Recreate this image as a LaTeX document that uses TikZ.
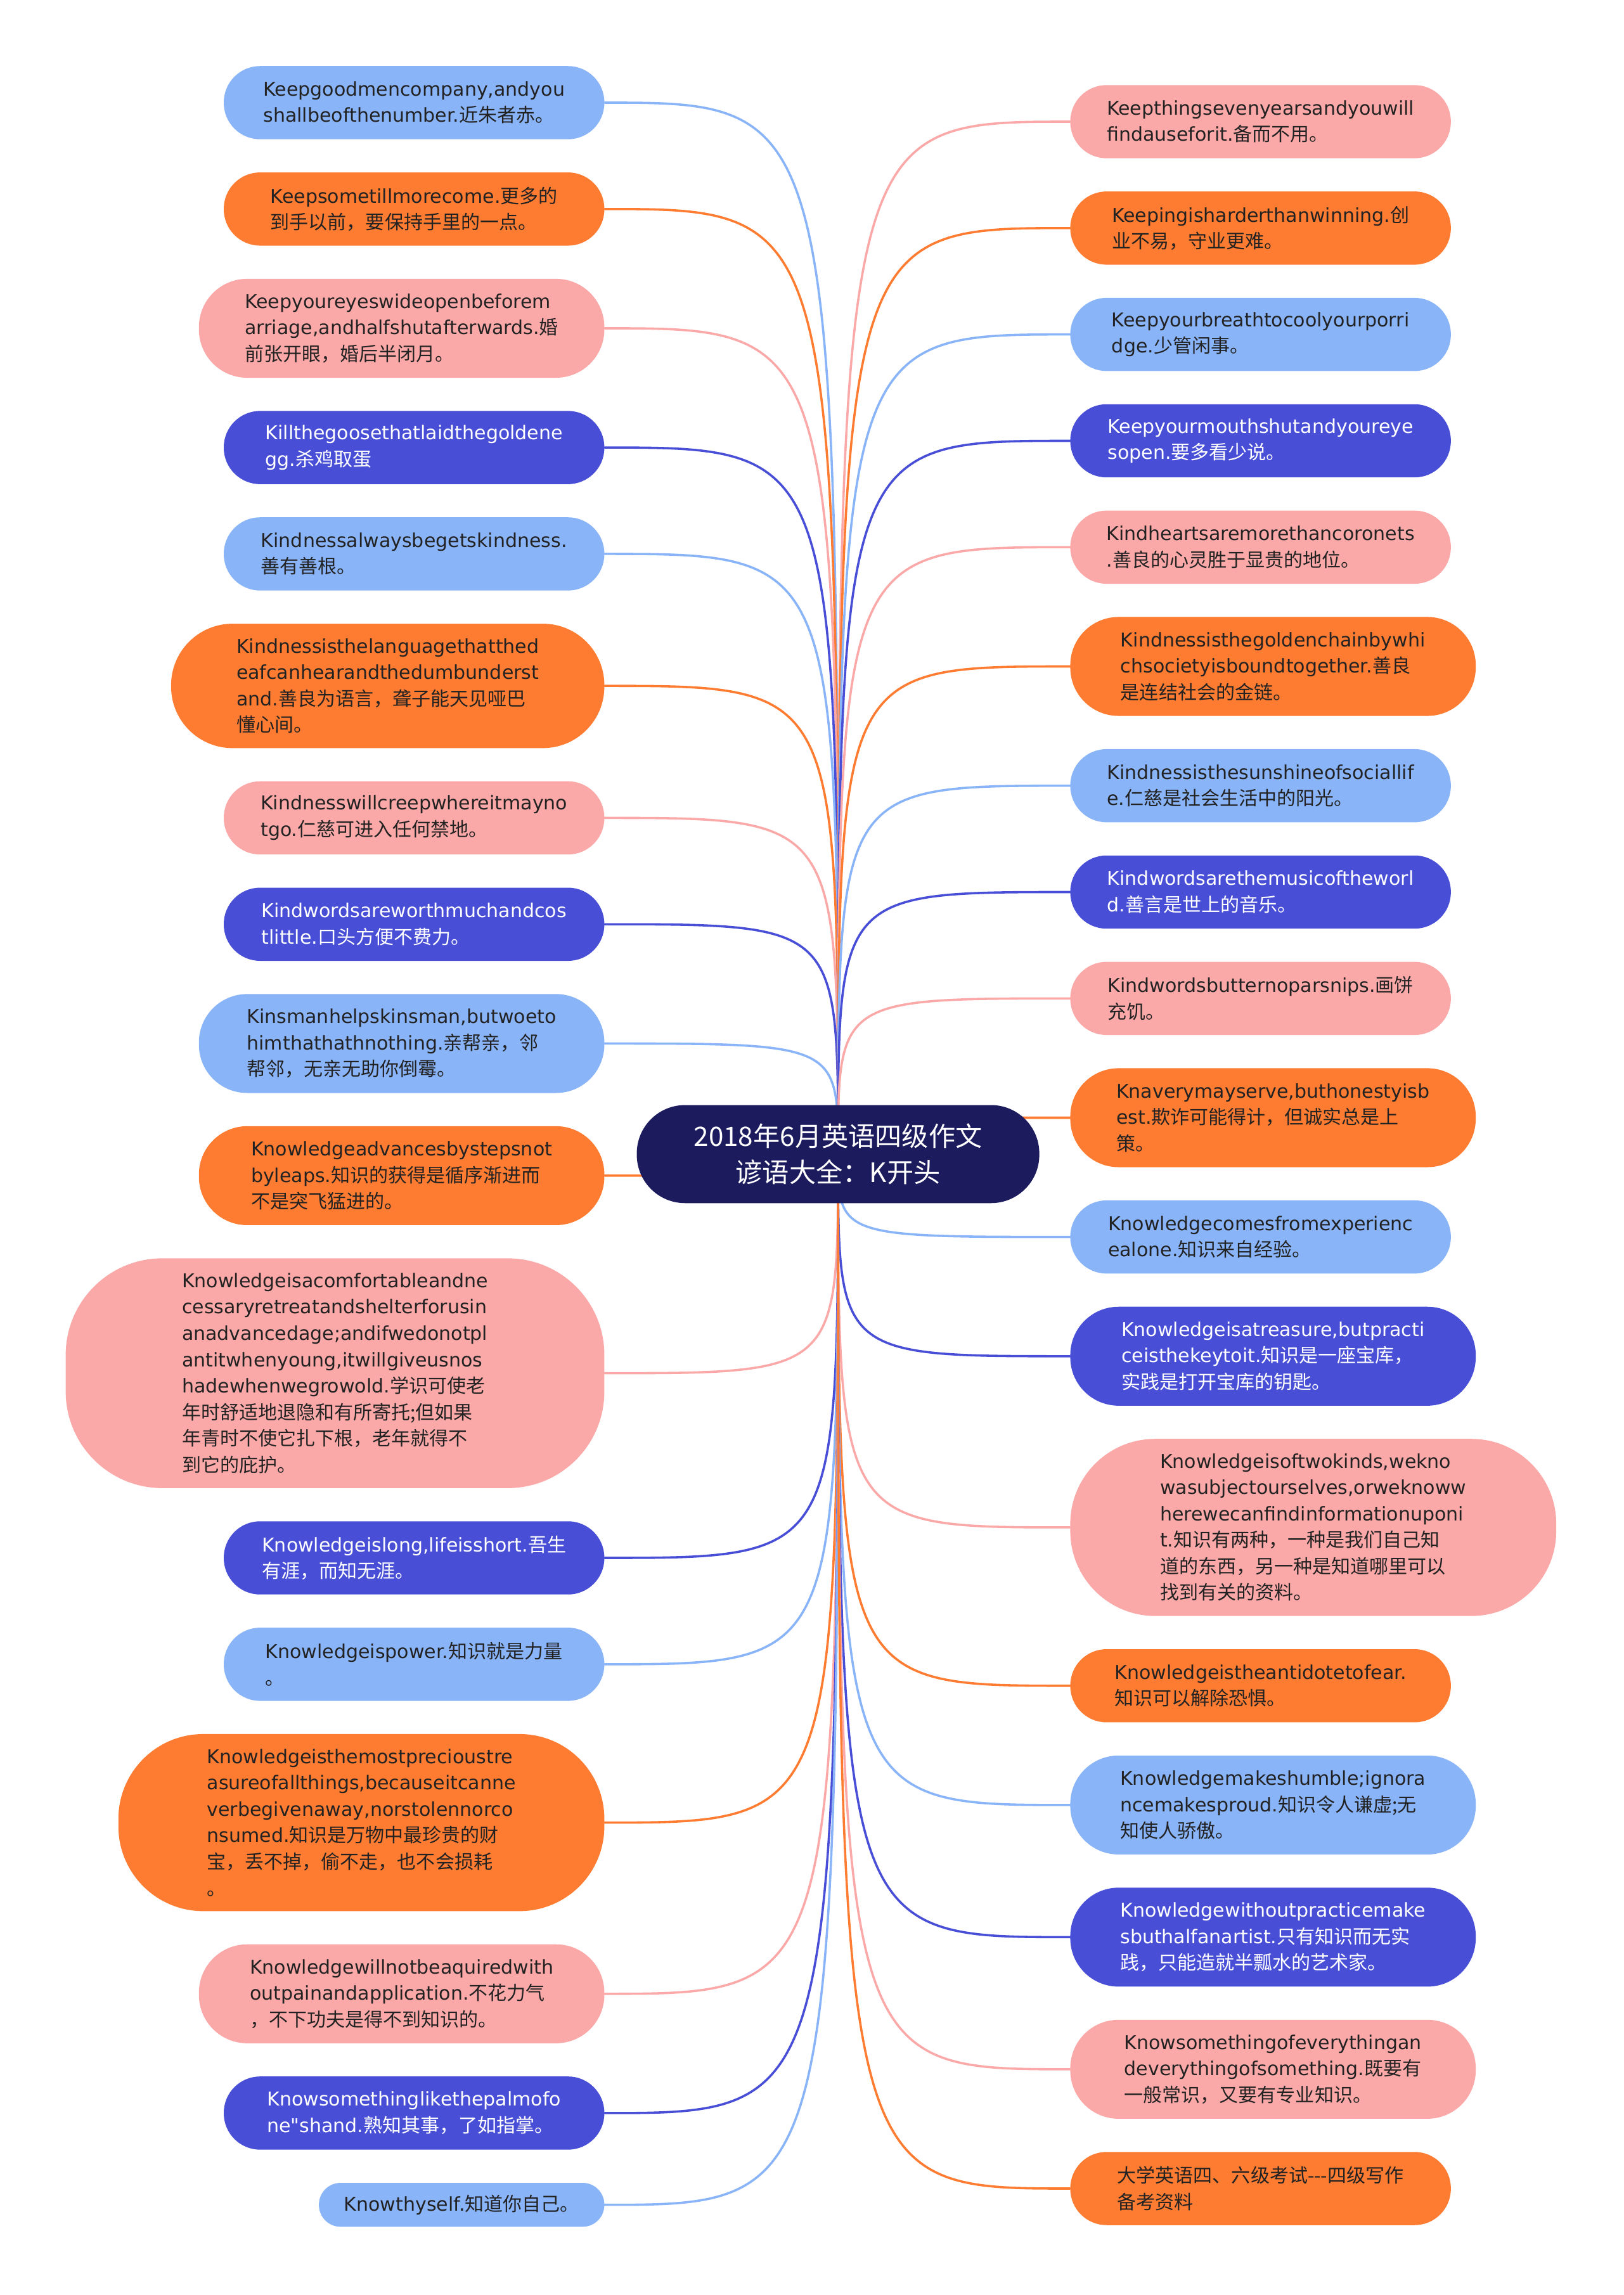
\documentclass[tikz,border=0pt]{standalone}
\usepackage{fontspec}
\setmainfont{DejaVu Sans}
\newfontfamily\cjk{Noto Sans CJK SC}
\newcommand{\zh}[1]{{\cjk #1}}
\newcommand{\dq}{\XeTeXglyph\XeTeXglyphindex "quotedbl"\relax}
\usetikzlibrary{positioning,backgrounds}
\definecolor{cLb}{RGB}{138,180,248}
\definecolor{cOg}{RGB}{253,124,50}
\definecolor{cPk}{RGB}{251,169,168}
\definecolor{cDb}{RGB}{72,79,214}
\definecolor{cRoot}{RGB}{27,27,94}
\definecolor{cTxt}{RGB}{34,34,34}
\tikzset{
  pill/.style={rectangle,inner sep=0pt,align=left,text=cTxt,font=\fontsize{18.5}{25.6}\selectfont},
  lb/.style={pill,fill=cLb},
  og/.style={pill,fill=cOg},
  pk/.style={pill,fill=cPk},
  db/.style={pill,fill=cDb,text=white},
  h1/.style={minimum width=9.75cm,minimum height=1.5cm,rounded corners=0.74cm},
  h2/.style={minimum width=13cm,minimum height=2.5cm,rounded corners=1.24cm},
  h3/.style={minimum width=13.85cm,minimum height=3.38cm,rounded corners=1.65cm},
  h4/.style={minimum width=14.8cm,minimum height=4.25cm,rounded corners=2.1cm},
  h6/.style={minimum width=16.6cm,minimum height=6.05cm,rounded corners=2.9cm},
  h8/.style={minimum width=18.4cm,minimum height=7.85cm,rounded corners=3.3cm},
  main/.style={rectangle,fill=cRoot,text=white,rounded corners=1.65cm,minimum width=13.75cm,minimum height=3.35cm,align=center,font=\cjk\fontsize{26}{35}\selectfont},
  link/.style={line width=2.2pt,line cap=round},
}

\begin{document}
\begin{tikzpicture}[x=0.05cm,y=-0.05cm,node distance=1.12cm]
  \useasboundingbox (0,0) rectangle (1109,1568);
  \node[main] (topic) at (572.5,788.5) {2018年6月英语四级作文\\谚语大全：K开头};
  % left column
  \node[lb,h2,anchor=north east] (l1) at (413,45) {Keepgoodmencompany,andyou\\shallbeofthenumber.\zh{近朱者赤。}};
  \node[og,h2,below=of l1.south east,anchor=north east] (l2) {Keepsometillmorecome.\zh{更多的}\\\zh{到手以前，要保持手里的一点。}};
  \node[pk,h3,below=of l2.south east,anchor=north east] (l3) {Keepyoureyeswideopenbeforem\\arriage,andhalfshutafterwards.\zh{婚}\\\zh{前张开眼，婚后半闭月。}};
  \node[db,h2,below=of l3.south east,anchor=north east] (l4) {Killthegoosethatlaidthegoldene\\gg.\zh{杀鸡取蛋}};
  \node[lb,h2,below=of l4.south east,anchor=north east] (l5) {Kindnessalwaysbegetskindness.\\\zh{善有善根。}};
  \node[og,h4,below=of l5.south east,anchor=north east] (l6) {Kindnessisthelanguagethatthed\\eafcanhearandthedumbunderst\\and.\zh{善良为语言，聋子能天见哑巴}\\\zh{懂心间。}};
  \node[pk,h2,below=of l6.south east,anchor=north east] (l7) {Kindnesswillcreepwhereitmayno\\tgo.\zh{仁慈可进入任何禁地。}};
  \node[db,h2,below=of l7.south east,anchor=north east] (l8) {Kindwordsareworthmuchandcos\\tlittle.\zh{口头方便不费力。}};
  \node[lb,h3,below=of l8.south east,anchor=north east] (l9) {Kinsmanhelpskinsman,butwoeto\\himthathathnothing.\zh{亲帮亲，邻}\\\zh{帮邻，无亲无助你倒霉。}};
  \node[og,h3,below=of l9.south east,anchor=north east] (l10) {Knowledgeadvancesbystepsnot\\byleaps.\zh{知识的获得是循序渐进而}\\\zh{不是突飞猛进的。}};
  \node[pk,h8,below=of l10.south east,anchor=north east] (l11) {Knowledgeisacomfortableandne\\cessaryretreatandshelterforusin\\anadvancedage;andifwedonotpl\\antitwhenyoung,itwillgiveusnos\\hadewhenwegrowold.\zh{学识可使老}\\\zh{年时舒适地退隐和有所寄托;但如果}\\\zh{年青时不使它扎下根，老年就得不}\\\zh{到它的庇护。}};
  \node[db,h2,below=of l11.south east,anchor=north east] (l12) {Knowledgeislong,lifeisshort.\zh{吾生}\\\zh{有涯，而知无涯。}};
  \node[lb,h2,below=of l12.south east,anchor=north east] (l13) {Knowledgeispower.\zh{知识就是力量}\\\zh{。}};
  \node[og,h6,below=of l13.south east,anchor=north east] (l14) {Knowledgeisthemostprecioustre\\asureofallthings,becauseitcanne\\verbegivenaway,norstolennorco\\nsumed.\zh{知识是万物中最珍贵的财}\\\zh{宝，丢不掉，偷不走，也不会损耗}\\\zh{。}};
  \node[pk,h3,below=of l14.south east,anchor=north east] (l15) {Knowledgewillnotbeaquiredwith\\outpainandapplication.\zh{不花力气}\\\zh{，不下功夫是得不到知识的。}};
  \node[db,h2,below=of l15.south east,anchor=north east] (l16) {Knowsomethinglikethepalmofo\\ne\dq shand.\zh{熟知其事，了如指掌。}};
  \node[lb,h1,below=of l16.south east,anchor=north east] (l17) {Knowthyself.\zh{知道你自己。}};
  % right column
  \node[pk,h2,anchor=north west] (r1) at (731,58) {Keepthingsevenyearsandyouwill\\findauseforit.\zh{备而不用。}};
  \node[og,h2,below=of r1.south west,anchor=north west] (r2) {Keepingisharderthanwinning.\zh{创}\\\zh{业不易，守业更难。}};
  \node[lb,h2,below=of r2.south west,anchor=north west] (r3) {Keepyourbreathtocoolyourporri\\dge.\zh{少管闲事。}};
  \node[db,h2,below=of r3.south west,anchor=north west] (r4) {Keepyourmouthshutandyoureye\\sopen.\zh{要多看少说。}};
  \node[pk,h2,below=of r4.south west,anchor=north west] (r5) {Kindheartsaremorethancoronets\\.\zh{善良的心灵胜于显贵的地位。}};
  \node[og,h3,below=of r5.south west,anchor=north west] (r6) {Kindnessisthegoldenchainbywhi\\chsocietyisboundtogether.\zh{善良}\\\zh{是连结社会的金链。}};
  \node[lb,h2,below=of r6.south west,anchor=north west] (r7) {Kindnessisthesunshineofsociallif\\e.\zh{仁慈是社会生活中的阳光。}};
  \node[db,h2,below=of r7.south west,anchor=north west] (r8) {Kindwordsarethemusicoftheworl\\d.\zh{善言是世上的音乐。}};
  \node[pk,h2,below=of r8.south west,anchor=north west] (r9) {Kindwordsbutternoparsnips.\zh{画饼}\\\zh{充饥。}};
  \node[og,h3,below=of r9.south west,anchor=north west] (r10) {Knaverymayserve,buthonestyisb\\est.\zh{欺诈可能得计，但诚实总是上}\\\zh{策。}};
  \node[lb,h2,below=of r10.south west,anchor=north west] (r11) {Knowledgecomesfromexperienc\\ealone.\zh{知识来自经验。}};
  \node[db,h3,below=of r11.south west,anchor=north west] (r12) {Knowledgeisatreasure,butpracti\\ceisthekeytoit.\zh{知识是一座宝库，}\\\zh{实践是打开宝库的钥匙。}};
  \node[pk,h6,below=of r12.south west,anchor=north west] (r13) {Knowledgeisoftwokinds,wekno\\wasubjectourselves,orweknoww\\herewecanfindinformationuponi\\t.\zh{知识有两种，一种是我们自己知}\\\zh{道的东西，另一种是知道哪里可以}\\\zh{找到有关的资料。}};
  \node[og,h2,below=of r13.south west,anchor=north west] (r14) {Knowledgeistheantidotetofear.\\\zh{知识可以解除恐惧。}};
  \node[lb,h3,below=of r14.south west,anchor=north west] (r15) {Knowledgemakeshumble;ignora\\ncemakesproud.\zh{知识令人谦虚;无}\\\zh{知使人骄傲。}};
  \node[db,h3,below=of r15.south west,anchor=north west] (r16) {Knowledgewithoutpracticemake\\sbuthalfanartist.\zh{只有知识而无实}\\\zh{践，只能造就半瓢水的艺术家。}};
  \node[pk,h3,below=of r16.south west,anchor=north west] (r17) {Knowsomethingofeverythingan\\deverythingofsomething.\zh{既要有}\\\zh{一般常识，又要有专业知识。}};
  \node[og,h2,below=of r17.south west,anchor=north west] (r18) {\zh{大学英语四、六级考试-{}-{}-四级写作}\\\zh{备考资料}};
  % links
  \begin{scope}[on background layer]
    \foreach \n/\c in {l1/cLb,l2/cOg,l3/cPk,l4/cDb,l5/cLb,l6/cOg,l7/cPk,l8/cDb,l9/cLb,l10/cOg,l11/cPk,l12/cDb,l13/cLb,l14/cOg,l15/cPk,l16/cDb,l17/cLb}
      \draw[link,\c] (topic.center) .. controls (topic.center |- \n.east) .. (\n.east);
    \foreach \n/\c in {r1/cPk,r2/cOg,r3/cLb,r4/cDb,r5/cPk,r6/cOg,r7/cLb,r8/cDb,r9/cPk,r10/cOg,r11/cLb,r12/cDb,r13/cPk,r14/cOg,r15/cLb,r16/cDb,r17/cPk,r18/cOg}
      \draw[link,\c] (topic.center) .. controls (topic.center |- \n.west) .. (\n.west);
  \end{scope}
\end{tikzpicture}
\end{document}
